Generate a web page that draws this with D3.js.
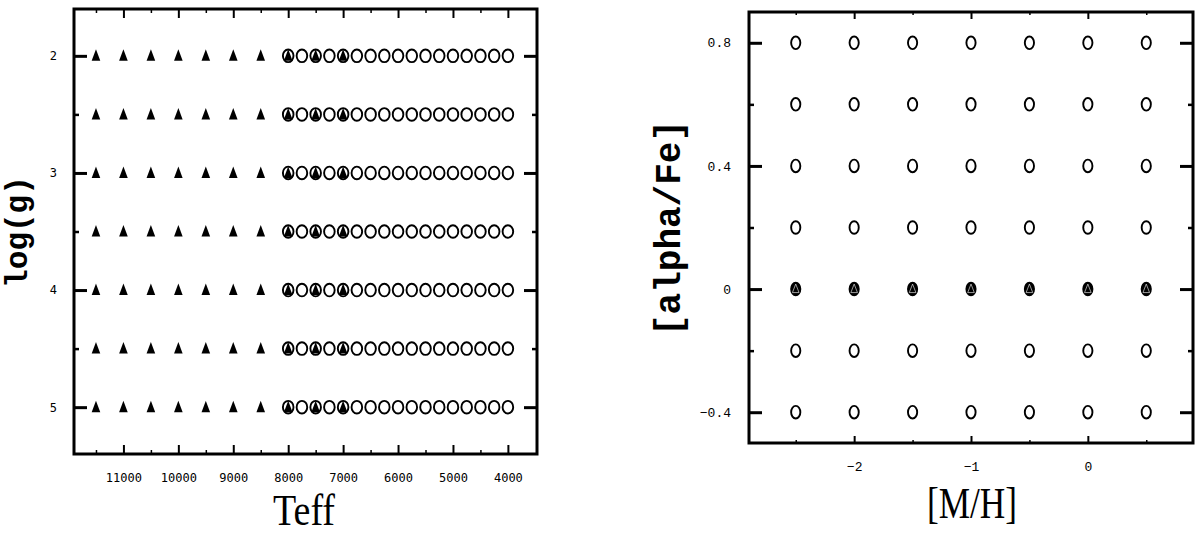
<!DOCTYPE html>
<html>
<head>
<meta charset="utf-8">
<script src="https://cdn.jsdelivr.net/npm/d3@7"></script>
<style>
  body { margin: 0; background: #fff; }
  svg { display: block; }
</style>
</head>
<body>
<svg id="chart" width="1200" height="534"></svg>
<script>
// Daten: linkes Panel (Teff / log g)
const triTeff = [11500, 11000, 10500, 10000, 9500, 9000, 8500, 8000, 7500, 7000];
const circTeff = [8000, 7750, 7500, 7250, 7000, 6750, 6500, 6250, 6000, 5750, 5500, 5250, 5000, 4750, 4500, 4250, 4000];
const loggVals = [2, 2.5, 3, 3.5, 4, 4.5, 5];
const teffMajor = [11000, 10000, 9000, 8000, 7000, 6000, 5000, 4000];
const teffMinor = [11500, 10500, 9500, 8500, 7500, 6500, 5500, 4500];
const loggMajor = [2, 3, 4, 5];
const loggMinor = [2.5, 3.5, 4.5];

// Daten: rechtes Panel ([M/H] / [alpha/Fe])
const mhVals = [-2.5, -2, -1.5, -1, -0.5, 0, 0.5];
const alphaVals = [-0.4, -0.2, 0, 0.2, 0.4, 0.6, 0.8];
const triAlpha = [0];
const mhMajor = [-2, -1, 0];
const mhMinor = [-2.5, -1.5, -0.5, 0.5];
const alphaMajor = [-0.4, 0, 0.4, 0.8];
const alphaMinor = [-0.2, 0.2, 0.6];

const svg = d3.select("#chart");
const cross = (xs, ys) => xs.flatMap(x => ys.map(y => [x, y]));

// Dreieck-Pfad relativ zum Mittelpunkt
const triPath = "M0,-6.5L4.3,5L-4.3,5Z";

// Rahmen + Ticks für ein Panel
function drawFrame(g, x, y, opt) {
    const [x0, x1] = x.range();
    const [y0, y1] = y.range();

    // Unten (mit Beschriftung)
    g.append("g")
        .attr("transform", `translate(0,${y1})`)
        .call(d3.axisBottom(x).tickValues(opt.xMajor).tickSize(-opt.xMajLen).tickPadding(opt.xPad)
            .tickFormat(opt.xFmt))
        .call(a => a.selectAll("line").attr("stroke-width", 2));
    g.append("g")
        .attr("transform", `translate(0,${y1})`)
        .call(d3.axisBottom(x).tickValues(opt.xMinor).tickSize(-opt.xMinLen).tickFormat(""))
        .call(a => a.selectAll("line").attr("stroke-width", 1.5));
    // Oben
    g.append("g")
        .attr("transform", `translate(0,${y0})`)
        .call(d3.axisTop(x).tickValues(opt.xMajor).tickSize(-opt.xMajLen).tickFormat(""))
        .call(a => a.selectAll("line").attr("stroke-width", 2));
    g.append("g")
        .attr("transform", `translate(0,${y0})`)
        .call(d3.axisTop(x).tickValues(opt.xMinor).tickSize(-opt.xMinLen).tickFormat(""))
        .call(a => a.selectAll("line").attr("stroke-width", 1.5));
    // Links (mit Beschriftung)
    g.append("g")
        .attr("transform", `translate(${x0},0)`)
        .call(d3.axisLeft(y).tickValues(opt.yMajor).tickSize(-opt.yMajLen).tickPadding(opt.yPad)
            .tickFormat(opt.yFmt))
        .call(a => a.selectAll("line").attr("stroke-width", 3));
    g.append("g")
        .attr("transform", `translate(${x0},0)`)
        .call(d3.axisLeft(y).tickValues(opt.yMinor).tickSize(-opt.yMinLen).tickFormat(""))
        .call(a => a.selectAll("line").attr("stroke-width", 2.5));
    // Rechts
    g.append("g")
        .attr("transform", `translate(${x1},0)`)
        .call(d3.axisRight(y).tickValues(opt.yMajor).tickSize(-opt.yMajLen).tickFormat(""))
        .call(a => a.selectAll("line").attr("stroke-width", 3));
    g.append("g")
        .attr("transform", `translate(${x1},0)`)
        .call(d3.axisRight(y).tickValues(opt.yMinor).tickSize(-opt.yMinLen).tickFormat(""))
        .call(a => a.selectAll("line").attr("stroke-width", 2.5));

    g.selectAll(".domain").remove();
    g.selectAll(".tick line").attr("stroke", "#000");
    g.selectAll(".tick text").attr("fill", "#000");

    g.append("rect")
        .attr("x", x0)
        .attr("y", y0)
        .attr("width", x1 - x0)
        .attr("height", y1 - y0)
        .attr("fill", "none")
        .attr("stroke", "#000")
        .attr("stroke-width", 3);
}

// ---------------- Linkes Panel ----------------
const xL = d3.scaleLinear().domain([11900, 3470]).range([74, 537]);
const yL = d3.scaleLinear().domain([1.6, 5.4]).range([9, 454]);
const left = svg.append("g");

drawFrame(left, xL, yL, {
    xMajor: teffMajor, xMinor: teffMinor, xMajLen: 9, xMinLen: 4, xPad: 19, xFmt: d3.format("d"),
    yMajor: loggMajor, yMinor: loggMinor, yMajLen: 13, yMinLen: 5, yPad: 17, yFmt: d3.format("d")
});
left.selectAll(".tick text")
    .attr("font-family", "DejaVu Sans Mono")
    .attr("font-size", 12);

// Kreise
left.append("g").selectAll("ellipse")
    .data(cross(circTeff, loggVals))
    .join("ellipse")
    .attr("cx", d => xL(d[0]))
    .attr("cy", d => yL(d[1]))
    .attr("rx", 5.3)
    .attr("ry", 6.3)
    .attr("fill", "none")
    .attr("stroke", "#000")
    .attr("stroke-width", 1.9);

// Dreiecke
left.append("g").selectAll("path")
    .data(cross(triTeff, loggVals))
    .join("path")
    .attr("transform", d => `translate(${xL(d[0])},${yL(d[1])})`)
    .attr("d", triPath)
    .attr("fill", "#000");

// Achsentitel
left.append("text")
    .attr("transform", "translate(27,232) rotate(-90)")
    .attr("text-anchor", "middle")
    .attr("font-family", "Liberation Mono, monospace")
    .attr("font-weight", "bold")
    .attr("font-size", 31)
    .text("log(g)");

left.append("text")
    .attr("x", 304)
    .attr("y", 525)
    .attr("text-anchor", "middle")
    .attr("font-family", "Liberation Serif")
    .attr("font-size", 44)
    .attr("textLength", 62)
    .attr("lengthAdjust", "spacingAndGlyphs")
    .text("Teff");

// ---------------- Rechtes Panel ----------------
const xR = d3.scaleLinear().domain([-2.9, 0.9]).range([749, 1193]);
const yR = d3.scaleLinear().domain([0.9, -0.5]).range([12, 443]);
const right = svg.append("g");

drawFrame(right, xR, yR, {
    xMajor: mhMajor, xMinor: mhMinor, xMajLen: 7, xMinLen: 3, xPad: 19, xFmt: d3.format("d"),
    yMajor: alphaMajor, yMinor: alphaMinor, yMajLen: 13, yMinLen: 5, yPad: 18,
    yFmt: d => d === 0 ? "0" : d3.format(".1f")(d)
});
right.selectAll(".tick text")
    .attr("font-family", "Liberation Mono")
    .attr("font-size", 13);

// Kreise (bei [alpha/Fe]=0 gefüllt)
right.append("g").selectAll("ellipse")
    .data(cross(mhVals, alphaVals))
    .join("ellipse")
    .attr("cx", d => xR(d[0]))
    .attr("cy", d => yR(d[1]))
    .attr("rx", 4.6)
    .attr("ry", 6.3)
    .attr("fill", d => triAlpha.includes(d[1]) ? "#000" : "none")
    .attr("stroke", "#000")
    .attr("stroke-width", 1.9);

// Dreiecke
right.append("g").selectAll("path")
    .data(cross(mhVals, triAlpha))
    .join("path")
    .attr("transform", d => `translate(${xR(d[0])},${yR(d[1])})`)
    .attr("d", "M0,-5L3.3,3.5L-3.3,3.5Z")
    .attr("fill", "#000")
    .attr("stroke", "#fff")
    .attr("stroke-width", 0.6);

// Achsentitel
right.append("text")
    .attr("transform", "translate(680,228) rotate(-90)")
    .attr("text-anchor", "middle")
    .attr("font-family", "Liberation Mono, monospace")
    .attr("font-weight", "bold")
    .attr("font-size", 36)
    .text("[alpha/Fe]");

right.append("text")
    .attr("x", 972)
    .attr("y", 518)
    .attr("text-anchor", "middle")
    .attr("font-family", "Liberation Serif")
    .attr("font-size", 44)
    .attr("textLength", 90)
    .attr("lengthAdjust", "spacingAndGlyphs")
    .text("[M/H]");
</script>
</body>
</html>
